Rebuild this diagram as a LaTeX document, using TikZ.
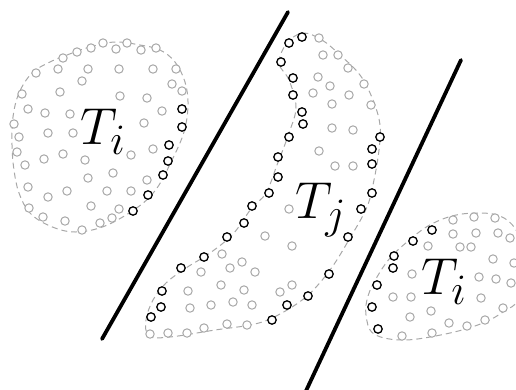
\documentclass[tikz,border=0pt]{standalone}
\usepackage{amsmath}
\definecolor{dotgray}{HTML}{A8A8A8}
\definecolor{rimgray}{HTML}{A8A8A8}

\begin{document}
\begin{tikzpicture}[
    x=1pt, y=-1pt,
    pt/.style={draw=dotgray, fill=white, line width=1pt},
    bpt/.style={draw=black, fill=white, line width=1.3pt},
    rim/.style={draw=rimgray, line width=1pt, dash pattern=on 6pt off 4pt},
    cut/.style={line width=3.8pt, line cap=round},
    lab/.style={font=\Huge, scale=2.09, anchor=base west, inner sep=0pt},
]
\clip (0,0) rectangle (516,389);

% outlines of the three regions
\draw[rim] plot[smooth cycle, tension=0.6] coordinates {
    (67,55) (90,47) (115,42) (140,45) (160,50) (175,62) (185,82) (188,105)
    (184,132) (172,160) (157,188) (138,207) (105,226) (75,232) (50,226)
    (30,213) (19,193) (14,170) (12,145) (13,117) (19,93) (32,73) (50,62)};
\draw[rim] plot[smooth cycle, tension=0.6] coordinates {
    (303,33) (322,40) (340,55) (360,75) (373,100) (380,125) (379,150)
    (374,180) (367,207) (350,238) (330,270) (307,296) (280,314) (255,324)
    (215,330) (170,337) (149,336) (146,320) (153,300) (166,283) (186,268)
    (210,253) (233,234) (251,209) (266,193) (277,165) (289,133) (296,107)
    (289,80) (279,63) (287,43)};
\draw[rim] plot[smooth cycle, tension=0.6] coordinates {
    (428,226) (452,216) (477,213) (500,216) (516,230) (528,262) (520,298)
    (503,312) (483,323) (450,333) (405,340) (374,334) (366,315) (368,296)
    (377,277) (390,258) (407,242)};

% the two cuts
\draw[cut] (288,12) -- (102,339);
\draw[cut] (461,60) -- (305,393);

% points of the left T_i
\foreach \x/\y in {103/43, 116/49, 127/43, 141/50, 156/48, 91/48, 77/52, 63/58,
    36/73, 22/94, 14/124, 19/137, 17/152, 25/165, 28/187, 29/208, 43/217,
    65/221, 82/230, 100/223, 112/218, 119/209, 91/206,
    58/69, 88/69, 119/69, 153/69, 176/69, 82/81, 60/92, 172/84, 182/91,
    120/96, 147/98, 28/109, 45/113, 70/114, 162/111, 48/133, 73/133, 144/123,
    63/154, 44/159, 85/160, 131/155, 153/149, 113/173, 88/178, 147/180,
    67/191, 107/191, 131/191, 48/197}
    \draw[pt] (\x,\y) circle (4.2pt);
\foreach \x/\y in {182/109, 182/127, 169/145, 168/161, 163/175, 148/195, 133/211}
    \draw[bpt] (\x,\y) circle (4.2pt);

% points of T_j
\foreach \x/\y in {319/38, 323/55, 338/55, 348/68, 318/77, 330/86, 364/84,
    313/93, 349/95, 332/104, 371/105, 332/128, 353/130, 319/151, 335/166,
    353/166, 289/209, 265/236, 292/246, 255/272, 292/285, 280/292, 252/305,
    222/254, 242/262, 201/272, 230/268, 188/291, 221/285, 244/290, 190/308,
    211/305, 233/302, 150/334, 168/333, 187/333, 204/328, 227/324, 247/325}
    \draw[pt] (\x,\y) circle (4.2pt);
\foreach \x/\y in {302/37, 289/43, 281/62, 293/78, 293/95, 302/112, 303/124,
    289/137, 278/157, 278/177, 269/193, 252/206, 244/223, 227/237, 204/257,
    181/268, 162/291, 161/307, 151/317,
    380/137, 372/149, 372/164, 372/193, 361/209, 348/237, 329/274, 308/296,
    287/305, 272/320}
    \draw[bpt] (\x,\y) circle (4.2pt);

% points of the right T_i
\foreach \x/\y in {453/220, 474/217, 495/218, 510/238, 453/234, 476/233,
    498/233, 428/246, 460/247, 471/247, 493/259, 514/263, 412/274, 479/277,
    496/279, 511/283, 393/297, 411/297, 481/298, 431/311, 410/317, 503/308,
    449/323, 467/326, 485/320, 432/333, 402/336}
    \draw[pt] (\x,\y) circle (4.2pt);
\foreach \x/\y in {432/230, 413/241, 394/256, 393/268, 377/285, 372/307, 378/329}
    \draw[bpt] (\x,\y) circle (4.2pt);

\node[lab] (tileft) at (80,144) {$T_i$};
\node[lab] (tj) at (295,218) {$T_j$};
\node[lab] (tiright) at (421,294) {$T_i$};
\end{tikzpicture}
\end{document}
